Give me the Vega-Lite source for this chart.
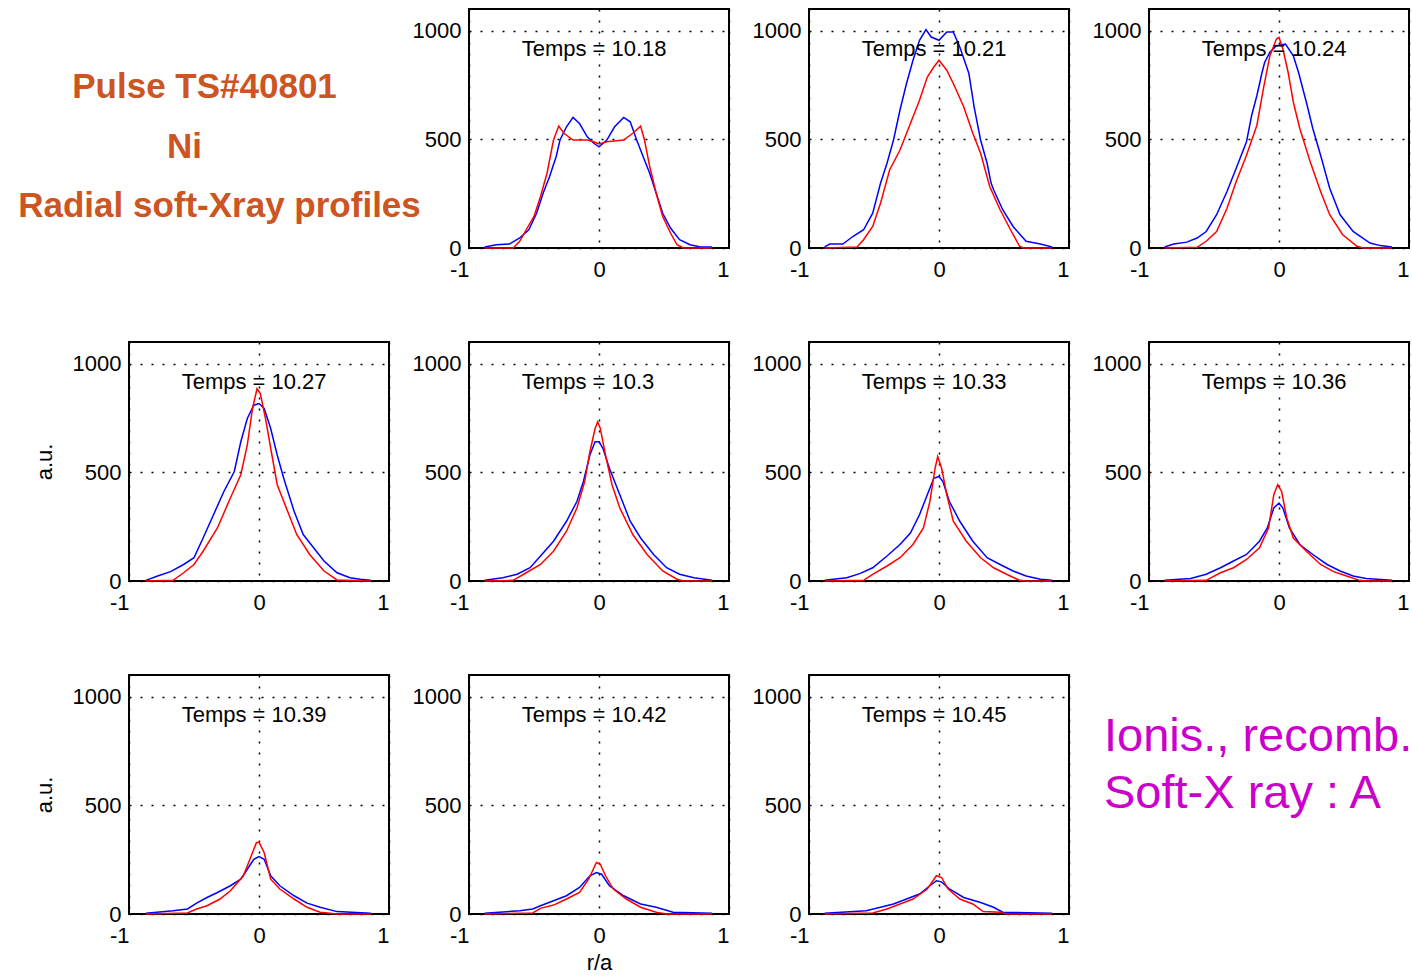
{
  "$schema": "https://vega.github.io/schema/vega-lite/v6.json",
  "background": "white",
  "padding": {"left": 18, "top": 8, "right": 0, "bottom": 0},
  "columns": 4,
  "spacing": {"row": 94, "column": 80},
  "bounds": "flush",
  "datasets": {
    "profiles": [
      {"t":"10.18","s":"blue","x":-0.88,"y":5},{"t":"10.18","s":"blue","x":-0.79,"y":15},{"t":"10.18","s":"blue","x":-0.69,"y":18},{"t":"10.18","s":"blue","x":-0.61,"y":46},{"t":"10.18","s":"blue","x":-0.54,"y":84},{"t":"10.18","s":"blue","x":-0.48,"y":160},{"t":"10.18","s":"blue","x":-0.43,"y":252},{"t":"10.18","s":"blue","x":-0.38,"y":329},{"t":"10.18","s":"blue","x":-0.33,"y":420},{"t":"10.18","s":"blue","x":-0.30,"y":497},{"t":"10.18","s":"blue","x":-0.25,"y":558},{"t":"10.18","s":"blue","x":-0.20,"y":601},{"t":"10.18","s":"blue","x":-0.15,"y":573},{"t":"10.18","s":"blue","x":-0.09,"y":512},{"t":"10.18","s":"blue","x":-0.04,"y":482},{"t":"10.18","s":"blue","x":0,"y":466},{"t":"10.18","s":"blue","x":0.06,"y":497},{"t":"10.18","s":"blue","x":0.12,"y":558},{"t":"10.18","s":"blue","x":0.19,"y":601},{"t":"10.18","s":"blue","x":0.24,"y":581},{"t":"10.18","s":"blue","x":0.29,"y":497},{"t":"10.18","s":"blue","x":0.34,"y":420},{"t":"10.18","s":"blue","x":0.39,"y":344},{"t":"10.18","s":"blue","x":0.44,"y":252},{"t":"10.18","s":"blue","x":0.49,"y":160},{"t":"10.18","s":"blue","x":0.55,"y":92},{"t":"10.18","s":"blue","x":0.62,"y":38},{"t":"10.18","s":"blue","x":0.70,"y":15},{"t":"10.18","s":"blue","x":0.78,"y":5},{"t":"10.18","s":"blue","x":0.87,"y":5},
      {"t":"10.18","s":"red","x":-0.88,"y":0},{"t":"10.18","s":"red","x":-0.66,"y":0},{"t":"10.18","s":"red","x":-0.61,"y":31},{"t":"10.18","s":"red","x":-0.56,"y":84},{"t":"10.18","s":"red","x":-0.50,"y":145},{"t":"10.18","s":"red","x":-0.45,"y":237},{"t":"10.18","s":"red","x":-0.40,"y":344},{"t":"10.18","s":"red","x":-0.35,"y":497},{"t":"10.18","s":"red","x":-0.31,"y":561},{"t":"10.18","s":"red","x":-0.27,"y":528},{"t":"10.18","s":"red","x":-0.20,"y":497},{"t":"10.18","s":"red","x":-0.09,"y":497},{"t":"10.18","s":"red","x":-0.04,"y":489},{"t":"10.18","s":"red","x":0,"y":479},{"t":"10.18","s":"red","x":0.06,"y":489},{"t":"10.18","s":"red","x":0.19,"y":497},{"t":"10.18","s":"red","x":0.26,"y":528},{"t":"10.18","s":"red","x":0.32,"y":561},{"t":"10.18","s":"red","x":0.35,"y":497},{"t":"10.18","s":"red","x":0.39,"y":375},{"t":"10.18","s":"red","x":0.44,"y":252},{"t":"10.18","s":"red","x":0.49,"y":145},{"t":"10.18","s":"red","x":0.55,"y":69},{"t":"10.18","s":"red","x":0.60,"y":15},{"t":"10.18","s":"red","x":0.65,"y":0},{"t":"10.18","s":"red","x":0.87,"y":0},

      {"t":"10.21","s":"blue","x":-0.88,"y":5},{"t":"10.21","s":"blue","x":-0.84,"y":18},{"t":"10.21","s":"blue","x":-0.74,"y":18},{"t":"10.21","s":"blue","x":-0.66,"y":54},{"t":"10.21","s":"blue","x":-0.58,"y":84},{"t":"10.21","s":"blue","x":-0.51,"y":160},{"t":"10.21","s":"blue","x":-0.45,"y":298},{"t":"10.21","s":"blue","x":-0.40,"y":390},{"t":"10.21","s":"blue","x":-0.35,"y":497},{"t":"10.21","s":"blue","x":-0.30,"y":635},{"t":"10.21","s":"blue","x":-0.25,"y":757},{"t":"10.21","s":"blue","x":-0.20,"y":864},{"t":"10.21","s":"blue","x":-0.15,"y":956},{"t":"10.21","s":"blue","x":-0.10,"y":1005},{"t":"10.21","s":"blue","x":-0.06,"y":971},{"t":"10.21","s":"blue","x":0,"y":956},{"t":"10.21","s":"blue","x":0.06,"y":994},{"t":"10.21","s":"blue","x":0.11,"y":994},{"t":"10.21","s":"blue","x":0.16,"y":925},{"t":"10.21","s":"blue","x":0.23,"y":803},{"t":"10.21","s":"blue","x":0.27,"y":650},{"t":"10.21","s":"blue","x":0.32,"y":497},{"t":"10.21","s":"blue","x":0.37,"y":390},{"t":"10.21","s":"blue","x":0.40,"y":300},{"t":"10.21","s":"blue","x":0.42,"y":268},{"t":"10.21","s":"blue","x":0.49,"y":176},{"t":"10.21","s":"blue","x":0.57,"y":99},{"t":"10.21","s":"blue","x":0.67,"y":31},{"t":"10.21","s":"blue","x":0.78,"y":18},{"t":"10.21","s":"blue","x":0.87,"y":5},
      {"t":"10.21","s":"red","x":-0.88,"y":0},{"t":"10.21","s":"red","x":-0.63,"y":5},{"t":"10.21","s":"red","x":-0.58,"y":38},{"t":"10.21","s":"red","x":-0.51,"y":99},{"t":"10.21","s":"red","x":-0.45,"y":206},{"t":"10.21","s":"red","x":-0.38,"y":359},{"t":"10.21","s":"red","x":-0.30,"y":451},{"t":"10.21","s":"red","x":-0.22,"y":573},{"t":"10.21","s":"red","x":-0.15,"y":680},{"t":"10.21","s":"red","x":-0.09,"y":787},{"t":"10.21","s":"red","x":-0.04,"y":833},{"t":"10.21","s":"red","x":0,"y":864},{"t":"10.21","s":"red","x":0.06,"y":818},{"t":"10.21","s":"red","x":0.11,"y":757},{"t":"10.21","s":"red","x":0.19,"y":650},{"t":"10.21","s":"red","x":0.26,"y":528},{"t":"10.21","s":"red","x":0.32,"y":436},{"t":"10.21","s":"red","x":0.39,"y":283},{"t":"10.21","s":"red","x":0.47,"y":176},{"t":"10.21","s":"red","x":0.55,"y":84},{"t":"10.21","s":"red","x":0.62,"y":8},{"t":"10.21","s":"red","x":0.65,"y":0},{"t":"10.21","s":"red","x":0.87,"y":0},

      {"t":"10.24","s":"blue","x":-0.88,"y":5},{"t":"10.24","s":"blue","x":-0.81,"y":18},{"t":"10.24","s":"blue","x":-0.71,"y":27},{"t":"10.24","s":"blue","x":-0.63,"y":46},{"t":"10.24","s":"blue","x":-0.56,"y":76},{"t":"10.24","s":"blue","x":-0.48,"y":153},{"t":"10.24","s":"blue","x":-0.40,"y":260},{"t":"10.24","s":"blue","x":-0.33,"y":366},{"t":"10.24","s":"blue","x":-0.25,"y":489},{"t":"10.24","s":"blue","x":-0.21,"y":611},{"t":"10.24","s":"blue","x":-0.17,"y":702},{"t":"10.24","s":"blue","x":-0.13,"y":809},{"t":"10.24","s":"blue","x":-0.11,"y":855},{"t":"10.24","s":"blue","x":-0.07,"y":901},{"t":"10.24","s":"blue","x":-0.02,"y":931},{"t":"10.24","s":"blue","x":0.05,"y":939},{"t":"10.24","s":"blue","x":0.11,"y":885},{"t":"10.24","s":"blue","x":0.15,"y":809},{"t":"10.24","s":"blue","x":0.21,"y":672},{"t":"10.24","s":"blue","x":0.26,"y":550},{"t":"10.24","s":"blue","x":0.32,"y":427},{"t":"10.24","s":"blue","x":0.39,"y":275},{"t":"10.24","s":"blue","x":0.47,"y":153},{"t":"10.24","s":"blue","x":0.57,"y":76},{"t":"10.24","s":"blue","x":0.70,"y":23},{"t":"10.24","s":"blue","x":0.78,"y":11},{"t":"10.24","s":"blue","x":0.87,"y":5},
      {"t":"10.24","s":"red","x":-0.88,"y":0},{"t":"10.24","s":"red","x":-0.63,"y":3},{"t":"10.24","s":"red","x":-0.56,"y":31},{"t":"10.24","s":"red","x":-0.48,"y":76},{"t":"10.24","s":"red","x":-0.40,"y":183},{"t":"10.24","s":"red","x":-0.33,"y":305},{"t":"10.24","s":"red","x":-0.25,"y":427},{"t":"10.24","s":"red","x":-0.17,"y":565},{"t":"10.24","s":"red","x":-0.12,"y":733},{"t":"10.24","s":"red","x":-0.07,"y":885},{"t":"10.24","s":"red","x":-0.02,"y":962},{"t":"10.24","s":"red","x":0,"y":969},{"t":"10.24","s":"red","x":0.03,"y":916},{"t":"10.24","s":"red","x":0.07,"y":809},{"t":"10.24","s":"red","x":0.11,"y":672},{"t":"10.24","s":"red","x":0.16,"y":550},{"t":"10.24","s":"red","x":0.24,"y":397},{"t":"10.24","s":"red","x":0.32,"y":260},{"t":"10.24","s":"red","x":0.39,"y":153},{"t":"10.24","s":"red","x":0.49,"y":61},{"t":"10.24","s":"red","x":0.60,"y":8},{"t":"10.24","s":"red","x":0.65,"y":0},{"t":"10.24","s":"red","x":0.87,"y":0},

      {"t":"10.27","s":"blue","x":-0.87,"y":3},{"t":"10.27","s":"blue","x":-0.78,"y":23},{"t":"10.27","s":"blue","x":-0.68,"y":43},{"t":"10.27","s":"blue","x":-0.58,"y":76},{"t":"10.27","s":"blue","x":-0.50,"y":107},{"t":"10.27","s":"blue","x":-0.43,"y":198},{"t":"10.27","s":"blue","x":-0.35,"y":305},{"t":"10.27","s":"blue","x":-0.27,"y":412},{"t":"10.27","s":"blue","x":-0.19,"y":504},{"t":"10.27","s":"blue","x":-0.14,"y":641},{"t":"10.27","s":"blue","x":-0.09,"y":748},{"t":"10.27","s":"blue","x":-0.04,"y":809},{"t":"10.27","s":"blue","x":0,"y":817},{"t":"10.27","s":"blue","x":0.04,"y":794},{"t":"10.27","s":"blue","x":0.09,"y":702},{"t":"10.27","s":"blue","x":0.14,"y":580},{"t":"10.27","s":"blue","x":0.19,"y":473},{"t":"10.27","s":"blue","x":0.27,"y":321},{"t":"10.27","s":"blue","x":0.34,"y":214},{"t":"10.27","s":"blue","x":0.42,"y":153},{"t":"10.27","s":"blue","x":0.50,"y":92},{"t":"10.27","s":"blue","x":0.60,"y":38},{"t":"10.27","s":"blue","x":0.70,"y":15},{"t":"10.27","s":"blue","x":0.78,"y":8},{"t":"10.27","s":"blue","x":0.86,"y":3},
      {"t":"10.27","s":"red","x":-0.87,"y":0},{"t":"10.27","s":"red","x":-0.66,"y":3},{"t":"10.27","s":"red","x":-0.58,"y":38},{"t":"10.27","s":"red","x":-0.50,"y":76},{"t":"10.27","s":"red","x":-0.43,"y":137},{"t":"10.27","s":"red","x":-0.32,"y":244},{"t":"10.27","s":"red","x":-0.22,"y":382},{"t":"10.27","s":"red","x":-0.14,"y":489},{"t":"10.27","s":"red","x":-0.09,"y":626},{"t":"10.27","s":"red","x":-0.05,"y":794},{"t":"10.27","s":"red","x":-0.015,"y":885},{"t":"10.27","s":"red","x":0.01,"y":863},{"t":"10.27","s":"red","x":0.05,"y":748},{"t":"10.27","s":"red","x":0.09,"y":611},{"t":"10.27","s":"red","x":0.14,"y":443},{"t":"10.27","s":"red","x":0.22,"y":321},{"t":"10.27","s":"red","x":0.29,"y":214},{"t":"10.27","s":"red","x":0.39,"y":122},{"t":"10.27","s":"red","x":0.50,"y":46},{"t":"10.27","s":"red","x":0.60,"y":5},{"t":"10.27","s":"red","x":0.86,"y":0},

      {"t":"10.3","s":"blue","x":-0.88,"y":3},{"t":"10.3","s":"blue","x":-0.74,"y":15},{"t":"10.3","s":"blue","x":-0.63,"y":31},{"t":"10.3","s":"blue","x":-0.53,"y":61},{"t":"10.3","s":"blue","x":-0.45,"y":115},{"t":"10.3","s":"blue","x":-0.35,"y":183},{"t":"10.3","s":"blue","x":-0.25,"y":275},{"t":"10.3","s":"blue","x":-0.17,"y":366},{"t":"10.3","s":"blue","x":-0.12,"y":458},{"t":"10.3","s":"blue","x":-0.07,"y":580},{"t":"10.3","s":"blue","x":-0.03,"y":641},{"t":"10.3","s":"blue","x":0,"y":641},{"t":"10.3","s":"blue","x":0.03,"y":611},{"t":"10.3","s":"blue","x":0.08,"y":519},{"t":"10.3","s":"blue","x":0.16,"y":397},{"t":"10.3","s":"blue","x":0.24,"y":275},{"t":"10.3","s":"blue","x":0.32,"y":198},{"t":"10.3","s":"blue","x":0.42,"y":122},{"t":"10.3","s":"blue","x":0.52,"y":61},{"t":"10.3","s":"blue","x":0.62,"y":31},{"t":"10.3","s":"blue","x":0.73,"y":15},{"t":"10.3","s":"blue","x":0.87,"y":3},
      {"t":"10.3","s":"red","x":-0.88,"y":0},{"t":"10.3","s":"red","x":-0.66,"y":3},{"t":"10.3","s":"red","x":-0.56,"y":38},{"t":"10.3","s":"red","x":-0.45,"y":76},{"t":"10.3","s":"red","x":-0.35,"y":137},{"t":"10.3","s":"red","x":-0.25,"y":229},{"t":"10.3","s":"red","x":-0.17,"y":336},{"t":"10.3","s":"red","x":-0.11,"y":458},{"t":"10.3","s":"red","x":-0.07,"y":595},{"t":"10.3","s":"red","x":-0.03,"y":702},{"t":"10.3","s":"red","x":-0.01,"y":733},{"t":"10.3","s":"red","x":0.01,"y":702},{"t":"10.3","s":"red","x":0.05,"y":580},{"t":"10.3","s":"red","x":0.10,"y":443},{"t":"10.3","s":"red","x":0.16,"y":336},{"t":"10.3","s":"red","x":0.26,"y":214},{"t":"10.3","s":"red","x":0.37,"y":122},{"t":"10.3","s":"red","x":0.49,"y":46},{"t":"10.3","s":"red","x":0.60,"y":8},{"t":"10.3","s":"red","x":0.65,"y":0},{"t":"10.3","s":"red","x":0.87,"y":0},

      {"t":"10.33","s":"blue","x":-0.88,"y":3},{"t":"10.33","s":"blue","x":-0.71,"y":15},{"t":"10.33","s":"blue","x":-0.61,"y":34},{"t":"10.33","s":"blue","x":-0.51,"y":61},{"t":"10.33","s":"blue","x":-0.40,"y":115},{"t":"10.33","s":"blue","x":-0.30,"y":168},{"t":"10.33","s":"blue","x":-0.22,"y":221},{"t":"10.33","s":"blue","x":-0.15,"y":305},{"t":"10.33","s":"blue","x":-0.09,"y":397},{"t":"10.33","s":"blue","x":-0.04,"y":473},{"t":"10.33","s":"blue","x":0,"y":481},{"t":"10.33","s":"blue","x":0.03,"y":458},{"t":"10.33","s":"blue","x":0.08,"y":366},{"t":"10.33","s":"blue","x":0.16,"y":275},{"t":"10.33","s":"blue","x":0.26,"y":183},{"t":"10.33","s":"blue","x":0.37,"y":107},{"t":"10.33","s":"blue","x":0.47,"y":76},{"t":"10.33","s":"blue","x":0.57,"y":46},{"t":"10.33","s":"blue","x":0.67,"y":23},{"t":"10.33","s":"blue","x":0.78,"y":8},{"t":"10.33","s":"blue","x":0.87,"y":3},
      {"t":"10.33","s":"red","x":-0.88,"y":0},{"t":"10.33","s":"red","x":-0.58,"y":3},{"t":"10.33","s":"red","x":-0.51,"y":31},{"t":"10.33","s":"red","x":-0.40,"y":69},{"t":"10.33","s":"red","x":-0.30,"y":107},{"t":"10.33","s":"red","x":-0.20,"y":168},{"t":"10.33","s":"red","x":-0.12,"y":244},{"t":"10.33","s":"red","x":-0.07,"y":366},{"t":"10.33","s":"red","x":-0.03,"y":519},{"t":"10.33","s":"red","x":-0.01,"y":573},{"t":"10.33","s":"red","x":0.02,"y":519},{"t":"10.33","s":"red","x":0.06,"y":397},{"t":"10.33","s":"red","x":0.11,"y":275},{"t":"10.33","s":"red","x":0.21,"y":183},{"t":"10.33","s":"red","x":0.32,"y":107},{"t":"10.33","s":"red","x":0.42,"y":61},{"t":"10.33","s":"red","x":0.52,"y":31},{"t":"10.33","s":"red","x":0.62,"y":3},{"t":"10.33","s":"red","x":0.67,"y":0},{"t":"10.33","s":"red","x":0.87,"y":0},

      {"t":"10.36","s":"blue","x":-0.88,"y":3},{"t":"10.36","s":"blue","x":-0.68,"y":12},{"t":"10.36","s":"blue","x":-0.56,"y":31},{"t":"10.36","s":"blue","x":-0.45,"y":61},{"t":"10.36","s":"blue","x":-0.35,"y":92},{"t":"10.36","s":"blue","x":-0.25,"y":122},{"t":"10.36","s":"blue","x":-0.15,"y":183},{"t":"10.36","s":"blue","x":-0.09,"y":244},{"t":"10.36","s":"blue","x":-0.04,"y":336},{"t":"10.36","s":"blue","x":0,"y":359},{"t":"10.36","s":"blue","x":0.03,"y":336},{"t":"10.36","s":"blue","x":0.08,"y":244},{"t":"10.36","s":"blue","x":0.16,"y":168},{"t":"10.36","s":"blue","x":0.26,"y":122},{"t":"10.36","s":"blue","x":0.37,"y":76},{"t":"10.36","s":"blue","x":0.47,"y":46},{"t":"10.36","s":"blue","x":0.57,"y":23},{"t":"10.36","s":"blue","x":0.67,"y":11},{"t":"10.36","s":"blue","x":0.87,"y":3},
      {"t":"10.36","s":"red","x":-0.88,"y":0},{"t":"10.36","s":"red","x":-0.56,"y":3},{"t":"10.36","s":"red","x":-0.45,"y":38},{"t":"10.36","s":"red","x":-0.35,"y":61},{"t":"10.36","s":"red","x":-0.25,"y":99},{"t":"10.36","s":"red","x":-0.15,"y":153},{"t":"10.36","s":"red","x":-0.08,"y":244},{"t":"10.36","s":"red","x":-0.04,"y":397},{"t":"10.36","s":"red","x":-0.01,"y":443},{"t":"10.36","s":"red","x":0.02,"y":412},{"t":"10.36","s":"red","x":0.06,"y":290},{"t":"10.36","s":"red","x":0.11,"y":198},{"t":"10.36","s":"red","x":0.21,"y":137},{"t":"10.36","s":"red","x":0.32,"y":76},{"t":"10.36","s":"red","x":0.42,"y":43},{"t":"10.36","s":"red","x":0.52,"y":23},{"t":"10.36","s":"red","x":0.62,"y":3},{"t":"10.36","s":"red","x":0.67,"y":0},{"t":"10.36","s":"red","x":0.87,"y":0},

      {"t":"10.39","s":"blue","x":-0.87,"y":3},{"t":"10.39","s":"blue","x":-0.66,"y":15},{"t":"10.39","s":"blue","x":-0.55,"y":23},{"t":"10.39","s":"blue","x":-0.48,"y":50},{"t":"10.39","s":"blue","x":-0.40,"y":76},{"t":"10.39","s":"blue","x":-0.32,"y":99},{"t":"10.39","s":"blue","x":-0.22,"y":130},{"t":"10.39","s":"blue","x":-0.14,"y":160},{"t":"10.39","s":"blue","x":-0.09,"y":206},{"t":"10.39","s":"blue","x":-0.04,"y":252},{"t":"10.39","s":"blue","x":0,"y":264},{"t":"10.39","s":"blue","x":0.04,"y":252},{"t":"10.39","s":"blue","x":0.09,"y":176},{"t":"10.39","s":"blue","x":0.16,"y":130},{"t":"10.39","s":"blue","x":0.27,"y":84},{"t":"10.39","s":"blue","x":0.37,"y":50},{"t":"10.39","s":"blue","x":0.47,"y":31},{"t":"10.39","s":"blue","x":0.60,"y":11},{"t":"10.39","s":"blue","x":0.86,"y":3},
      {"t":"10.39","s":"red","x":-0.87,"y":0},{"t":"10.39","s":"red","x":-0.55,"y":5},{"t":"10.39","s":"red","x":-0.48,"y":23},{"t":"10.39","s":"red","x":-0.40,"y":38},{"t":"10.39","s":"red","x":-0.30,"y":69},{"t":"10.39","s":"red","x":-0.22,"y":107},{"t":"10.39","s":"red","x":-0.12,"y":176},{"t":"10.39","s":"red","x":-0.07,"y":252},{"t":"10.39","s":"red","x":-0.02,"y":328},{"t":"10.39","s":"red","x":0,"y":331},{"t":"10.39","s":"red","x":0.04,"y":282},{"t":"10.39","s":"red","x":0.09,"y":160},{"t":"10.39","s":"red","x":0.16,"y":115},{"t":"10.39","s":"red","x":0.27,"y":69},{"t":"10.39","s":"red","x":0.37,"y":31},{"t":"10.39","s":"red","x":0.47,"y":8},{"t":"10.39","s":"red","x":0.60,"y":0},{"t":"10.39","s":"red","x":0.86,"y":0},

      {"t":"10.42","s":"blue","x":-0.88,"y":3},{"t":"10.42","s":"blue","x":-0.61,"y":15},{"t":"10.42","s":"blue","x":-0.51,"y":23},{"t":"10.42","s":"blue","x":-0.45,"y":38},{"t":"10.42","s":"blue","x":-0.35,"y":61},{"t":"10.42","s":"blue","x":-0.25,"y":84},{"t":"10.42","s":"blue","x":-0.15,"y":122},{"t":"10.42","s":"blue","x":-0.07,"y":176},{"t":"10.42","s":"blue","x":-0.02,"y":191},{"t":"10.42","s":"blue","x":0.02,"y":183},{"t":"10.42","s":"blue","x":0.08,"y":130},{"t":"10.42","s":"blue","x":0.19,"y":84},{"t":"10.42","s":"blue","x":0.32,"y":46},{"t":"10.42","s":"blue","x":0.44,"y":31},{"t":"10.42","s":"blue","x":0.57,"y":8},{"t":"10.42","s":"blue","x":0.87,"y":3},
      {"t":"10.42","s":"red","x":-0.88,"y":0},{"t":"10.42","s":"red","x":-0.51,"y":5},{"t":"10.42","s":"red","x":-0.45,"y":26},{"t":"10.42","s":"red","x":-0.35,"y":41},{"t":"10.42","s":"red","x":-0.25,"y":69},{"t":"10.42","s":"red","x":-0.15,"y":99},{"t":"10.42","s":"red","x":-0.08,"y":160},{"t":"10.42","s":"red","x":-0.02,"y":237},{"t":"10.42","s":"red","x":0.01,"y":229},{"t":"10.42","s":"red","x":0.05,"y":176},{"t":"10.42","s":"red","x":0.11,"y":115},{"t":"10.42","s":"red","x":0.21,"y":69},{"t":"10.42","s":"red","x":0.32,"y":31},{"t":"10.42","s":"red","x":0.44,"y":8},{"t":"10.42","s":"red","x":0.52,"y":0},{"t":"10.42","s":"red","x":0.87,"y":0},

      {"t":"10.45","s":"blue","x":-0.88,"y":3},{"t":"10.45","s":"blue","x":-0.56,"y":15},{"t":"10.45","s":"blue","x":-0.45,"y":31},{"t":"10.45","s":"blue","x":-0.35,"y":46},{"t":"10.45","s":"blue","x":-0.25,"y":69},{"t":"10.45","s":"blue","x":-0.15,"y":92},{"t":"10.45","s":"blue","x":-0.07,"y":130},{"t":"10.45","s":"blue","x":-0.02,"y":153},{"t":"10.45","s":"blue","x":0.02,"y":148},{"t":"10.45","s":"blue","x":0.08,"y":115},{"t":"10.45","s":"blue","x":0.19,"y":76},{"t":"10.45","s":"blue","x":0.32,"y":53},{"t":"10.45","s":"blue","x":0.42,"y":31},{"t":"10.45","s":"blue","x":0.49,"y":8},{"t":"10.45","s":"blue","x":0.87,"y":3},
      {"t":"10.45","s":"red","x":-0.88,"y":0},{"t":"10.45","s":"red","x":-0.51,"y":5},{"t":"10.45","s":"red","x":-0.40,"y":23},{"t":"10.45","s":"red","x":-0.30,"y":46},{"t":"10.45","s":"red","x":-0.20,"y":69},{"t":"10.45","s":"red","x":-0.09,"y":115},{"t":"10.45","s":"red","x":-0.02,"y":176},{"t":"10.45","s":"red","x":0.02,"y":168},{"t":"10.45","s":"red","x":0.07,"y":115},{"t":"10.45","s":"red","x":0.16,"y":69},{"t":"10.45","s":"red","x":0.26,"y":46},{"t":"10.45","s":"red","x":0.34,"y":11},{"t":"10.45","s":"red","x":0.47,"y":8},{"t":"10.45","s":"red","x":0.52,"y":0},{"t":"10.45","s":"red","x":0.87,"y":0}
    ]
  },
  "concat": [
    {"width":260,"height":239,"view":{"stroke":null},"layer":[
      {"data":{"values":[{"label":"Pulse TS#40801"}]},"mark":{"type":"text","font":"Liberation Sans","fontWeight":"bold","fontSize":35,"color":"#cc5522","align":"center","baseline":"alphabetic"},
       "encoding":{"x":{"datum":-0.419,"type":"quantitative","scale":{"domain":[-1,1]},"axis":null},"y":{"datum":690,"type":"quantitative","scale":{"domain":[0,1100]},"axis":null},"text":{"field":"label"}}},
      {"data":{"values":[{"label":"Ni"}]},"mark":{"type":"text","font":"Liberation Sans","fontWeight":"bold","fontSize":35,"color":"#cc5522","align":"center","baseline":"alphabetic"},
       "encoding":{"x":{"datum":-0.573,"type":"quantitative"},"y":{"datum":414,"type":"quantitative"},"text":{"field":"label"}}},
      {"data":{"values":[{"label":"Radial soft-Xray profiles"}]},"mark":{"type":"text","font":"Liberation Sans","fontWeight":"bold","fontSize":35,"color":"#cc5522","align":"center","baseline":"alphabetic"},
       "encoding":{"x":{"datum":-0.304,"type":"quantitative"},"y":{"datum":143,"type":"quantitative"},"text":{"field":"label"}}}
    ]},
    {"width":260,"height":239,"layer":[
      {"data":{"name":"profiles"},"transform":[{"filter":"datum.t == '10.18'"}],"mark":{"type":"line","strokeWidth":1.5},
       "encoding":{"x":{"field":"x","type":"quantitative","scale":{"domain":[-1,1],"nice":false},"axis":{"values":[-1,0,1],"title":null,"labelExpr":"'' + datum.value","labelAlign":{"condition":{"test":"datum.value == 0","value":"center"},"value":"right"}}},
                   "y":{"field":"y","type":"quantitative","scale":{"domain":[0,1100],"nice":false},"axis":{"values":[0,500,1000],"title":null,"labelExpr":"'' + datum.value"}},
                   "color":{"field":"s","type":"nominal","scale":{"domain":["blue","red"],"range":["#0000ff","#ff0000"]},"legend":null}}},
      {"data":{"values":[{"label":"Temps = 10.18"}]},"mark":{"type":"text","align":"left","baseline":"alphabetic","font":"Liberation Sans","fontSize":22,"color":"#000"},
       "encoding":{"x":{"datum":-0.595,"type":"quantitative"},"y":{"datum":884,"type":"quantitative"},"text":{"field":"label"}}}
    ]},
    {"width":260,"height":239,"layer":[
      {"data":{"name":"profiles"},"transform":[{"filter":"datum.t == '10.21'"}],"mark":{"type":"line","strokeWidth":1.5},
       "encoding":{"x":{"field":"x","type":"quantitative","scale":{"domain":[-1,1],"nice":false},"axis":{"values":[-1,0,1],"title":null,"labelExpr":"'' + datum.value","labelAlign":{"condition":{"test":"datum.value == 0","value":"center"},"value":"right"}}},
                   "y":{"field":"y","type":"quantitative","scale":{"domain":[0,1100],"nice":false},"axis":{"values":[0,500,1000],"title":null,"labelExpr":"'' + datum.value"}},
                   "color":{"field":"s","type":"nominal","scale":{"domain":["blue","red"],"range":["#0000ff","#ff0000"]},"legend":null}}},
      {"data":{"values":[{"label":"Temps = 10.21"}]},"mark":{"type":"text","align":"left","baseline":"alphabetic","font":"Liberation Sans","fontSize":22,"color":"#000"},
       "encoding":{"x":{"datum":-0.595,"type":"quantitative"},"y":{"datum":884,"type":"quantitative"},"text":{"field":"label"}}}
    ]},
    {"width":260,"height":239,"layer":[
      {"data":{"name":"profiles"},"transform":[{"filter":"datum.t == '10.24'"}],"mark":{"type":"line","strokeWidth":1.5},
       "encoding":{"x":{"field":"x","type":"quantitative","scale":{"domain":[-1,1],"nice":false},"axis":{"values":[-1,0,1],"title":null,"labelExpr":"'' + datum.value","labelAlign":{"condition":{"test":"datum.value == 0","value":"center"},"value":"right"}}},
                   "y":{"field":"y","type":"quantitative","scale":{"domain":[0,1100],"nice":false},"axis":{"values":[0,500,1000],"title":null,"labelExpr":"'' + datum.value"}},
                   "color":{"field":"s","type":"nominal","scale":{"domain":["blue","red"],"range":["#0000ff","#ff0000"]},"legend":null}}},
      {"data":{"values":[{"label":"Temps = 10.24"}]},"mark":{"type":"text","align":"left","baseline":"alphabetic","font":"Liberation Sans","fontSize":22,"color":"#000"},
       "encoding":{"x":{"datum":-0.595,"type":"quantitative"},"y":{"datum":884,"type":"quantitative"},"text":{"field":"label"}}}
    ]},
    {"width":260,"height":239,"layer":[
      {"data":{"name":"profiles"},"transform":[{"filter":"datum.t == '10.27'"}],"mark":{"type":"line","strokeWidth":1.5},
       "encoding":{"x":{"field":"x","type":"quantitative","scale":{"domain":[-1,1],"nice":false},"axis":{"values":[-1,0,1],"title":null,"labelExpr":"'' + datum.value","labelAlign":{"condition":{"test":"datum.value == 0","value":"center"},"value":"right"}}},
                   "y":{"field":"y","type":"quantitative","scale":{"domain":[0,1100],"nice":false},"axis":{"values":[0,500,1000],"title":"a.u.","labelExpr":"'' + datum.value"}},
                   "color":{"field":"s","type":"nominal","scale":{"domain":["blue","red"],"range":["#0000ff","#ff0000"]},"legend":null}}},
      {"data":{"values":[{"label":"Temps = 10.27"}]},"mark":{"type":"text","align":"left","baseline":"alphabetic","font":"Liberation Sans","fontSize":22,"color":"#000"},
       "encoding":{"x":{"datum":-0.595,"type":"quantitative"},"y":{"datum":884,"type":"quantitative"},"text":{"field":"label"}}}
    ]},
    {"width":260,"height":239,"layer":[
      {"data":{"name":"profiles"},"transform":[{"filter":"datum.t == '10.3'"}],"mark":{"type":"line","strokeWidth":1.5},
       "encoding":{"x":{"field":"x","type":"quantitative","scale":{"domain":[-1,1],"nice":false},"axis":{"values":[-1,0,1],"title":null,"labelExpr":"'' + datum.value","labelAlign":{"condition":{"test":"datum.value == 0","value":"center"},"value":"right"}}},
                   "y":{"field":"y","type":"quantitative","scale":{"domain":[0,1100],"nice":false},"axis":{"values":[0,500,1000],"title":null,"labelExpr":"'' + datum.value"}},
                   "color":{"field":"s","type":"nominal","scale":{"domain":["blue","red"],"range":["#0000ff","#ff0000"]},"legend":null}}},
      {"data":{"values":[{"label":"Temps = 10.3"}]},"mark":{"type":"text","align":"left","baseline":"alphabetic","font":"Liberation Sans","fontSize":22,"color":"#000"},
       "encoding":{"x":{"datum":-0.595,"type":"quantitative"},"y":{"datum":884,"type":"quantitative"},"text":{"field":"label"}}}
    ]},
    {"width":260,"height":239,"layer":[
      {"data":{"name":"profiles"},"transform":[{"filter":"datum.t == '10.33'"}],"mark":{"type":"line","strokeWidth":1.5},
       "encoding":{"x":{"field":"x","type":"quantitative","scale":{"domain":[-1,1],"nice":false},"axis":{"values":[-1,0,1],"title":null,"labelExpr":"'' + datum.value","labelAlign":{"condition":{"test":"datum.value == 0","value":"center"},"value":"right"}}},
                   "y":{"field":"y","type":"quantitative","scale":{"domain":[0,1100],"nice":false},"axis":{"values":[0,500,1000],"title":null,"labelExpr":"'' + datum.value"}},
                   "color":{"field":"s","type":"nominal","scale":{"domain":["blue","red"],"range":["#0000ff","#ff0000"]},"legend":null}}},
      {"data":{"values":[{"label":"Temps = 10.33"}]},"mark":{"type":"text","align":"left","baseline":"alphabetic","font":"Liberation Sans","fontSize":22,"color":"#000"},
       "encoding":{"x":{"datum":-0.595,"type":"quantitative"},"y":{"datum":884,"type":"quantitative"},"text":{"field":"label"}}}
    ]},
    {"width":260,"height":239,"layer":[
      {"data":{"name":"profiles"},"transform":[{"filter":"datum.t == '10.36'"}],"mark":{"type":"line","strokeWidth":1.5},
       "encoding":{"x":{"field":"x","type":"quantitative","scale":{"domain":[-1,1],"nice":false},"axis":{"values":[-1,0,1],"title":null,"labelExpr":"'' + datum.value","labelAlign":{"condition":{"test":"datum.value == 0","value":"center"},"value":"right"}}},
                   "y":{"field":"y","type":"quantitative","scale":{"domain":[0,1100],"nice":false},"axis":{"values":[0,500,1000],"title":null,"labelExpr":"'' + datum.value"}},
                   "color":{"field":"s","type":"nominal","scale":{"domain":["blue","red"],"range":["#0000ff","#ff0000"]},"legend":null}}},
      {"data":{"values":[{"label":"Temps = 10.36"}]},"mark":{"type":"text","align":"left","baseline":"alphabetic","font":"Liberation Sans","fontSize":22,"color":"#000"},
       "encoding":{"x":{"datum":-0.595,"type":"quantitative"},"y":{"datum":884,"type":"quantitative"},"text":{"field":"label"}}}
    ]},
    {"width":260,"height":239,"layer":[
      {"data":{"name":"profiles"},"transform":[{"filter":"datum.t == '10.39'"}],"mark":{"type":"line","strokeWidth":1.5},
       "encoding":{"x":{"field":"x","type":"quantitative","scale":{"domain":[-1,1],"nice":false},"axis":{"values":[-1,0,1],"title":null,"labelExpr":"'' + datum.value","labelAlign":{"condition":{"test":"datum.value == 0","value":"center"},"value":"right"}}},
                   "y":{"field":"y","type":"quantitative","scale":{"domain":[0,1100],"nice":false},"axis":{"values":[0,500,1000],"title":"a.u.","labelExpr":"'' + datum.value"}},
                   "color":{"field":"s","type":"nominal","scale":{"domain":["blue","red"],"range":["#0000ff","#ff0000"]},"legend":null}}},
      {"data":{"values":[{"label":"Temps = 10.39"}]},"mark":{"type":"text","align":"left","baseline":"alphabetic","font":"Liberation Sans","fontSize":22,"color":"#000"},
       "encoding":{"x":{"datum":-0.595,"type":"quantitative"},"y":{"datum":884,"type":"quantitative"},"text":{"field":"label"}}}
    ]},
    {"width":260,"height":239,"layer":[
      {"data":{"name":"profiles"},"transform":[{"filter":"datum.t == '10.42'"}],"mark":{"type":"line","strokeWidth":1.5},
       "encoding":{"x":{"field":"x","type":"quantitative","scale":{"domain":[-1,1],"nice":false},"axis":{"values":[-1,0,1],"title":"r/a","labelExpr":"'' + datum.value","labelAlign":{"condition":{"test":"datum.value == 0","value":"center"},"value":"right"}}},
                   "y":{"field":"y","type":"quantitative","scale":{"domain":[0,1100],"nice":false},"axis":{"values":[0,500,1000],"title":null,"labelExpr":"'' + datum.value"}},
                   "color":{"field":"s","type":"nominal","scale":{"domain":["blue","red"],"range":["#0000ff","#ff0000"]},"legend":null}}},
      {"data":{"values":[{"label":"Temps = 10.42"}]},"mark":{"type":"text","align":"left","baseline":"alphabetic","font":"Liberation Sans","fontSize":22,"color":"#000"},
       "encoding":{"x":{"datum":-0.595,"type":"quantitative"},"y":{"datum":884,"type":"quantitative"},"text":{"field":"label"}}}
    ]},
    {"width":260,"height":239,"layer":[
      {"data":{"name":"profiles"},"transform":[{"filter":"datum.t == '10.45'"}],"mark":{"type":"line","strokeWidth":1.5},
       "encoding":{"x":{"field":"x","type":"quantitative","scale":{"domain":[-1,1],"nice":false},"axis":{"values":[-1,0,1],"title":null,"labelExpr":"'' + datum.value","labelAlign":{"condition":{"test":"datum.value == 0","value":"center"},"value":"right"}}},
                   "y":{"field":"y","type":"quantitative","scale":{"domain":[0,1100],"nice":false},"axis":{"values":[0,500,1000],"title":null,"labelExpr":"'' + datum.value"}},
                   "color":{"field":"s","type":"nominal","scale":{"domain":["blue","red"],"range":["#0000ff","#ff0000"]},"legend":null}}},
      {"data":{"values":[{"label":"Temps = 10.45"}]},"mark":{"type":"text","align":"left","baseline":"alphabetic","font":"Liberation Sans","fontSize":22,"color":"#000"},
       "encoding":{"x":{"datum":-0.595,"type":"quantitative"},"y":{"datum":884,"type":"quantitative"},"text":{"field":"label"}}}
    ]},
    {"width":260,"height":239,"view":{"stroke":null},"layer":[
      {"data":{"values":[{"label":"Ionis., recomb."}]},"mark":{"type":"text","font":"Liberation Sans","fontSize":47,"color":"#cc00cc","align":"left","baseline":"alphabetic","limit":310,"ellipsis":"\u200b"},
       "encoding":{"x":{"datum":-1.346,"type":"quantitative","scale":{"domain":[-1,1]},"axis":null},"y":{"datum":750,"type":"quantitative","scale":{"domain":[0,1100]},"axis":null},"text":{"field":"label"}}},
      {"data":{"values":[{"label":"Soft-X ray : AD"}]},"mark":{"type":"text","font":"Liberation Sans","fontSize":47,"color":"#cc00cc","align":"left","baseline":"alphabetic","limit":310,"ellipsis":"\u200b"},
       "encoding":{"x":{"datum":-1.346,"type":"quantitative"},"y":{"datum":488,"type":"quantitative"},"text":{"field":"label"}}}
    ]}
  ],
  "config": {
    "view": {"stroke": "#000", "strokeWidth": 2},
    "axis": {"labelFont": "Liberation Sans", "labelFontSize": 22, "labelColor": "#000", "ticks": false, "domain": false, "grid": true, "gridColor": "#000", "gridDash": [2, 9], "gridWidth": 1.5, "gridOpacity": 1, "titleFont": "Liberation Sans", "titleFontSize": 22, "titleFontWeight": "normal", "titleColor": "#000", "labelFlush": false},
    "axisX": {"labelPadding": 11, "titlePadding": 6},
    "axisY": {"labelPadding": 8, "titlePadding": 16}
  }
}
